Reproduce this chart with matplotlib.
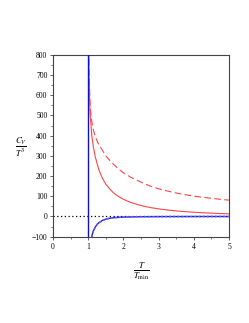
import matplotlib
matplotlib.use("Agg")
import matplotlib.pyplot as plt
from matplotlib.ticker import MultipleLocator

# Data
t_solid = [1.0, 1.01, 1.02, 1.05, 1.1, 1.15, 1.2, 1.3, 1.4, 1.5, 1.6, 1.7, 1.8, 1.9, 2.0,
           2.2, 2.4, 2.6, 2.8, 3.0, 3.25, 3.5, 3.75, 4.0, 4.25, 4.5, 4.75, 5.0]
v_solid = [2000, 1000, 700, 520, 400, 340, 295, 232, 190, 160, 138, 120, 106, 95, 85,
           70, 59, 50, 43, 37.5, 32, 27.5, 24, 21, 18.5, 16.5, 14.5, 13]

t_dashed = [1.0, 1.01, 1.02, 1.05, 1.08, 1.1, 1.15, 1.2, 1.3, 1.4, 1.5, 1.6, 1.7, 1.8, 1.9, 2.0,
            2.2, 2.4, 2.6, 2.8, 3.0, 3.25, 3.5, 3.75, 4.0, 4.25, 4.5, 4.75, 5.0]
v_dashed = [2000, 1000, 750, 560, 494, 470, 425, 395, 355, 328, 300, 280, 262, 245, 230, 216,
            195, 178, 162, 148, 137, 126, 116, 108, 101, 95, 90, 85, 81]

t_blue = [1.1, 1.12, 1.15, 1.2, 1.25, 1.3, 1.4, 1.5, 1.6, 1.7, 1.8, 2.0, 2.3, 2.6, 3.0, 4.0, 5.0]
v_blue = [-100, -85, -70, -52, -40, -31, -20, -13, -9, -6.5, -5, -3, -1.8, -1.1, -0.6, -0.2, -0.1]

xticks = [0, 1, 2, 3, 4, 5]
yticks = [-100, 0, 100, 200, 300, 400, 500, 600, 700, 800]

plt.rcParams['font.family'] = ['Liberation Serif', 'DejaVu Serif']
plt.rcParams['mathtext.fontset'] = 'stix'

fig = plt.figure(figsize=(2.49, 3.23), dpi=100)
ax = fig.add_axes([0.213, 0.266, 0.707, 0.564])

ax.plot([0, 5], [0, 0], color='black', linestyle=(0, (1, 2)), linewidth=0.9, zorder=1)
ax.axvline(1, color='#1010c0', linewidth=1.0, zorder=3)
ax.plot(t_solid, v_solid, color='#ff4444', linewidth=0.8, zorder=2)
ax.plot(t_dashed, v_dashed, color='#ff4444', linewidth=0.8, linestyle=(0, (6, 3)), zorder=2)
ax.plot(t_blue, v_blue, color='#2222dd', linewidth=1.0, zorder=2)
ax.plot(t_blue, v_blue, color='#6666ff', linewidth=1.2, linestyle=(0, (1, 1.5)), zorder=2)

ax.set_xlim(0, 5)
ax.set_ylim(-102, 800)
ax.set_xticks(xticks)
ax.set_yticks(yticks)
ax.xaxis.set_minor_locator(MultipleLocator(0.5))
ax.yaxis.set_minor_locator(MultipleLocator(50))
ax.tick_params(which='major', direction='out', length=2.5, width=0.6, labelsize=5.5, pad=1.5, color='#444444')
ax.tick_params(which='minor', direction='out', length=1.5, width=0.5, color='#444444')
for s in ax.spines.values():
    s.set_color('#444444')
    s.set_linewidth(0.8)

ax.set_xlabel(r'$\frac{T}{T_{\mathrm{min}}}$', fontsize=9)
ax.set_ylabel(r'$\frac{C_V}{T^3}$', fontsize=9, rotation=0, va='center', ha='center')
ax.xaxis.set_label_coords(0.5, -0.125)
ax.yaxis.set_label_coords(-0.18, 0.49)

fig.savefig('out.png', dpi=100)
